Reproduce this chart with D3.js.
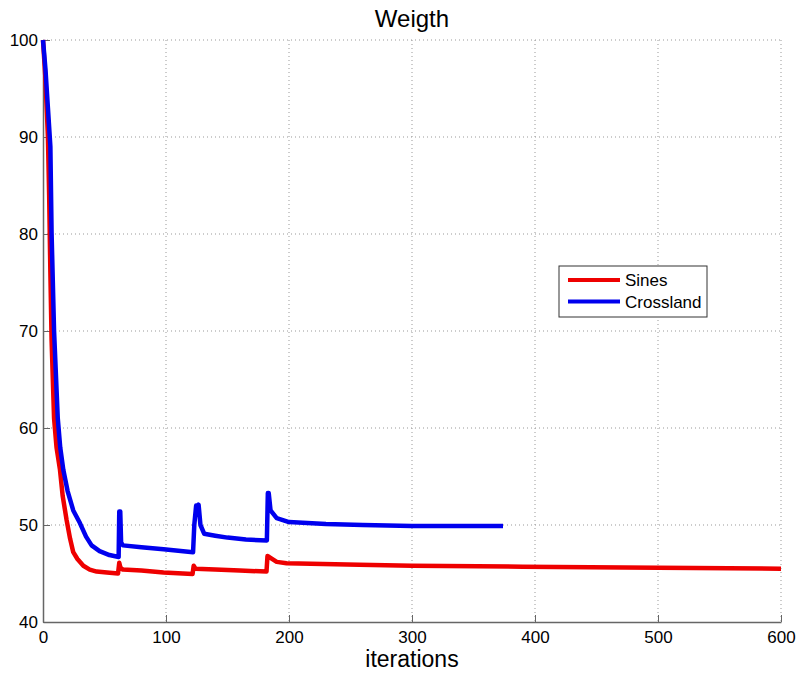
<!DOCTYPE html>
<html>
<head>
<meta charset="utf-8">
<script src="https://cdn.jsdelivr.net/npm/d3@7"></script>
<style>
  body { margin: 0; background: #fff; }
  text { font-family: "Liberation Sans", Arial, sans-serif; }
</style>
</head>
<body>
<div class="canvas"></div>
<script>
// iterations / weight for each run
const sinesIter = [0, 2, 4, 5, 6, 7, 9, 11, 13.8, 16, 19.2, 22, 24.6, 28, 32.8, 38, 43.6, 52, 61, 62, 63, 65, 80, 98, 121.6, 122.5, 124, 140, 160, 181.7, 182.5, 184, 190, 198, 257, 300, 390, 500, 600];
const sinesVal = [100, 96, 90, 84, 76, 69, 61, 58, 55.7, 53, 50.5, 48.6, 47.2, 46.5, 45.8, 45.4, 45.2, 45.1, 45.0, 46.1, 45.6, 45.4, 45.3, 45.1, 44.95, 45.8, 45.5, 45.4, 45.3, 45.2, 46.8, 46.7, 46.2, 46.05, 45.9, 45.8, 45.7, 45.6, 45.5];

const crossIter = [0, 2, 4, 6, 7, 9, 12, 14, 16.5, 20, 24.6, 30, 35, 39.5, 46, 54, 61.5, 62, 62.8, 63.5, 65, 80, 98, 122, 123, 124.5, 125.5, 126.5, 128, 131, 140, 150, 165, 182, 182.8, 183.5, 185, 190, 200, 230, 260, 300, 374];
const crossVal = [100, 97, 93, 89, 80, 70, 61, 58, 55.7, 53.5, 51.5, 50.2, 48.8, 47.9, 47.3, 46.9, 46.7, 51.4, 51.4, 48.2, 47.9, 47.7, 47.5, 47.2, 50, 52, 51.3, 52.1, 50, 49.1, 48.9, 48.7, 48.5, 48.4, 53.3, 53.3, 51.5, 50.7, 50.3, 50.1, 50.0, 49.9, 49.9];

const xTicks = [0, 100, 200, 300, 400, 500, 600];
const yTicks = [40, 50, 60, 70, 80, 90, 100];

const series = [
  { name: "Sines", color: "#ee0000", pts: sinesIter.map((d, i) => [d, sinesVal[i]]) },
  { name: "Crossland", color: "#0000ee", pts: crossIter.map((d, i) => [d, crossVal[i]]) }
];

const totalWidth = 797;
const totalHeight = 673;
const margin = { top: 40, right: 16, bottom: 51, left: 43 };
const graphWidth = totalWidth - margin.left - margin.right;
const graphHeight = totalHeight - margin.top - margin.bottom;

const svg = d3.select(".canvas")
  .append("svg")
  .attr("width", totalWidth)
  .attr("height", totalHeight);

const graph = svg.append("g")
  .attr("transform", `translate(${margin.left},${margin.top})`);

const x = d3.scaleLinear().domain([0, 600]).range([0, graphWidth]);
const y = d3.scaleLinear().domain([40, 100]).range([graphHeight, 0]);

// dotted grid
graph.append("g").selectAll("line")
  .data(xTicks.slice(1))
  .join("line")
  .attr("x1", d => x(d)).attr("x2", d => x(d))
  .attr("y1", 0).attr("y2", graphHeight)
  .attr("stroke", "#999").attr("stroke-width", 1).attr("stroke-dasharray", "1,3");

graph.append("g").selectAll("line")
  .data(yTicks.slice(1))
  .join("line")
  .attr("x1", 0).attr("x2", graphWidth)
  .attr("y1", d => y(d)).attr("y2", d => y(d))
  .attr("stroke", "#999").attr("stroke-width", 1).attr("stroke-dasharray", "1,3");

// axes, ticks pointing inward like matlab
const xAxis = d3.axisBottom(x).tickValues(xTicks).tickSizeInner(-7).tickSizeOuter(0).tickPadding(9);
const yAxis = d3.axisLeft(y).tickValues(yTicks).tickSizeInner(-7).tickSizeOuter(0).tickPadding(5);

const xAxisGroup = graph.append("g")
  .attr("transform", `translate(0,${graphHeight})`)
  .call(xAxis);
const yAxisGroup = graph.append("g").call(yAxis);

[xAxisGroup, yAxisGroup].forEach(g => {
  g.select(".domain").attr("stroke", "#666").attr("stroke-width", 1.5);
  g.selectAll(".tick line").attr("stroke", "#666");
  g.selectAll(".tick text").attr("font-size", 17).attr("fill", "#000")
    .attr("font-family", "Liberation Sans, Arial, sans-serif");
});

// lines
const line = d3.line().x(d => x(d[0])).y(d => y(d[1]));
graph.selectAll(".series")
  .data(series)
  .join("path")
  .attr("class", "series")
  .attr("fill", "none")
  .attr("stroke", d => d.color)
  .attr("stroke-width", 4.5)
  .attr("stroke-linejoin", "round")
  .attr("d", d => line(d.pts));

// title and label
svg.append("text")
  .attr("x", margin.left + graphWidth / 2)
  .attr("y", 27)
  .attr("text-anchor", "middle")
  .attr("font-size", 24)
  .text("Weigth");

svg.append("text")
  .attr("x", margin.left + graphWidth / 2)
  .attr("y", 667)
  .attr("text-anchor", "middle")
  .attr("font-size", 23)
  .text("iterations");

// legend
const legend = svg.append("g").attr("transform", "translate(559,266)");
legend.append("rect")
  .attr("width", 148).attr("height", 51)
  .attr("fill", "#fff").attr("stroke", "#333").attr("stroke-width", 1);
const items = legend.selectAll(".item")
  .data(series)
  .join("g")
  .attr("class", "item")
  .attr("transform", (d, i) => `translate(0,${14 + i * 21.5})`);
items.append("line")
  .attr("x1", 9).attr("x2", 61)
  .attr("stroke", d => d.color).attr("stroke-width", 4);
items.append("text")
  .attr("x", 66).attr("y", 6)
  .attr("font-size", 17)
  .text(d => d.name);
</script>
</body>
</html>
